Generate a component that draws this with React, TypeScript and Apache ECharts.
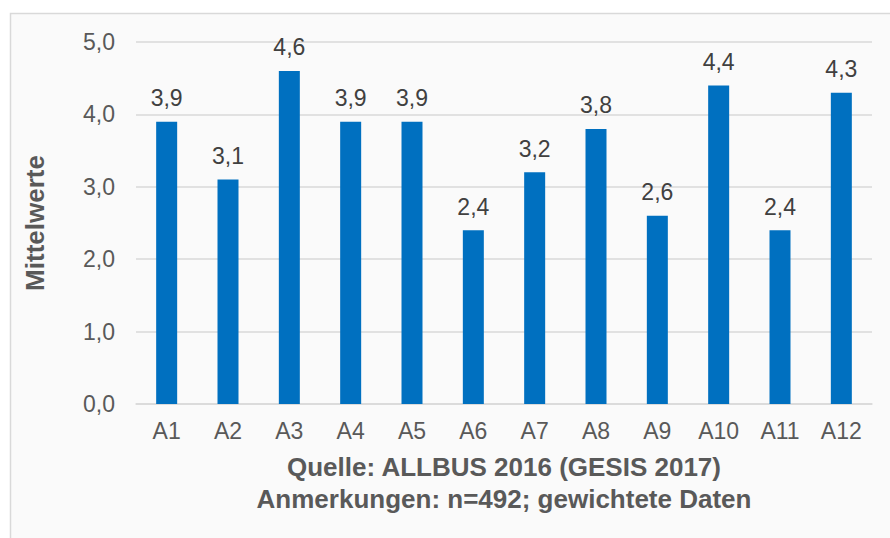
import React, { useEffect, useRef } from "react";
import * as echarts from "echarts";

const categories = ["A1", "A2", "A3", "A4", "A5", "A6", "A7", "A8", "A9", "A10", "A11", "A12"];
const values = [3.9, 3.1, 4.6, 3.9, 3.9, 2.4, 3.2, 3.8, 2.6, 4.4, 2.4, 4.3];
const yAxisTitle = "Mittelwerte";
const xAxisTitle = ["Quelle: ALLBUS 2016 (GESIS 2017)", "Anmerkungen: n=492; gewichtete Daten"];

const fmt = (v: number) => v.toFixed(1).replace(".", ",");
const FONT = "'Liberation Sans', Arial, sans-serif";

export default function App() {
  const ref = useRef<HTMLDivElement>(null);
  useEffect(() => {
    if (!ref.current) return;
    const chart = echarts.init(ref.current, null, { renderer: "svg" });
    chart.setOption({
      animation: false,
      backgroundColor: "#ffffff",
      textStyle: { fontFamily: FONT },
      graphic: [
        {
          type: "rect",
          z: -10,
          silent: true,
          shape: { x: 10.5, y: 13.5, width: 900, height: 600 },
          style: { fill: "#fafafa", stroke: "#d9d9d9", lineWidth: 1.5 },
        },
      ],
      grid: { left: 136, right: 18, top: 42, bottom: 134 },
      xAxis: {
        type: "category",
        data: categories,
        axisTick: { show: false },
        axisLine: { lineStyle: { color: "#d9d9d9", width: 1.5 } },
        axisLabel: { color: "#595959", fontSize: 23, margin: 15, fontFamily: FONT },
        name: xAxisTitle.join("\n"),
        nameLocation: "middle",
        nameGap: 47,
        nameTextStyle: {
          color: "#595959",
          fontSize: 26,
          fontWeight: "bold",
          lineHeight: 32,
          fontFamily: FONT,
        },
      },
      yAxis: {
        type: "value",
        min: 0,
        max: 5,
        interval: 1,
        axisLine: { show: false },
        axisTick: { show: false },
        splitLine: { lineStyle: { color: "#d9d9d9", width: 1.5 } },
        axisLabel: {
          color: "#595959",
          fontSize: 23,
          margin: 21,
          fontFamily: FONT,
          formatter: (v: number) => fmt(v),
        },
        name: yAxisTitle,
        nameLocation: "middle",
        nameRotate: 90,
        nameGap: 88,
        nameTextStyle: { color: "#595959", fontSize: 26, fontWeight: "bold", fontFamily: FONT },
      },
      series: [
        {
          type: "bar",
          data: values,
          barWidth: 21,
          itemStyle: { color: "#0070c0" },
          label: {
            show: true,
            position: "top",
            distance: 12,
            color: "#404040",
            fontSize: 23,
            fontFamily: FONT,
            formatter: (p: any) => fmt(p.value),
          },
        },
      ],
    });
    return () => chart.dispose();
  }, []);
  return (
    <div
      ref={ref}
      style={{ position: "fixed", left: 0, top: 0, width: 890, height: 538 }}
    />
  );
}
